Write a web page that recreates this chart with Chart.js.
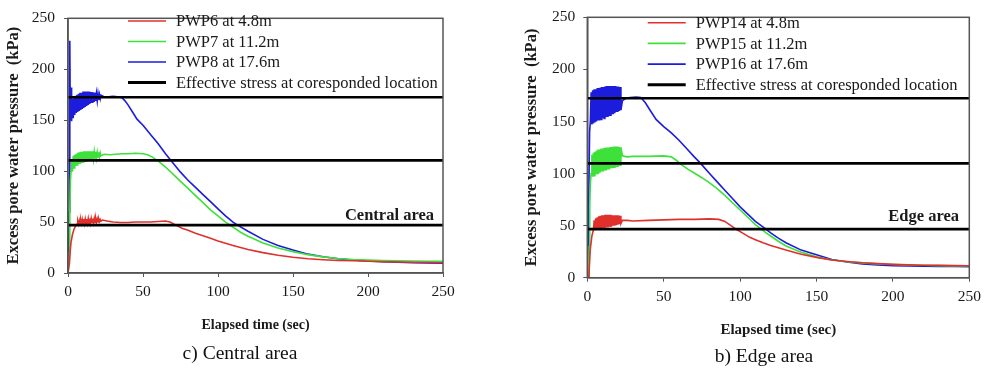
<!DOCTYPE html>
<html>
<head>
<meta charset="utf-8">
<title>Excess pore water pressure</title>
<script src="https://cdn.jsdelivr.net/npm/chart.js@4"></script>
<style>
  body { margin: 0; background: #fff; width: 989px; height: 369px; overflow: hidden; position: relative; font-family: "Liberation Serif", serif; }
  .box { position: absolute; top: 0; height: 369px; }
  #leftBox { left: 0; width: 480px; }
  #rightBox { left: 500px; width: 489px; }
  .caption { position: absolute; font-size: 19.5px; color: #111; white-space: nowrap; transform: translate(-50%, -50%); }
</style>
</head>
<body>
<div class="box" id="leftBox"><canvas id="left" width="480" height="369"></canvas></div>
<div class="box" id="rightBox"><canvas id="right" width="489" height="369"></canvas></div>
<div class="caption" style="left:240px;top:353px">c) Central area</div>
<div class="caption" style="left:764px;top:356px">b) Edge area</div>
<script>
// ---- data (time in sec, excess pore water pressure in kPa) ----
const xTicks = [0, 50, 100, 150, 200, 250];
const yTicks = [0, 50, 100, 150, 200, 250];

const leftLabels = ['PWP6 at 4.8m', 'PWP7 at 11.2m', 'PWP8 at 17.6m', 'Effective stress at coresponded location'];
const rightLabels = ['PWP14 at 4.8m', 'PWP15 at 11.2m', 'PWP16 at 17.6m', 'Effective stress at coresponded location'];

const leftStress = [172.5, 110.5, 47];
const rightStress = [172.3, 109.8, 46.6];

// central area
const pwp6 = [[0,0],[0.6,0],[1,10],[1.5,22],[2,30],[3,38],[4,43],[5,46],[6,48],
  [6.5,51],[7,48],[7.5,51.5],[8,48],[8.5,52],[9,48.5],[9.5,52.5],[10,48.5],[10.5,53],[11,48.5],[11.5,53],[12,49],
  [12.5,53],[13,49],[13.5,53.5],[14,49],[14.5,53.5],[15,49],[15.5,53.5],[16,49.5],[16.5,53.5],[17,49.5],[17.5,53.5],[18,49.5],
  [18.5,53.5],[19,50],[19.5,53],[20,50],[20.5,53],[21,50.5],[21.5,52.5],[22,51],
  [23,52],[26,51],[30,50],[35,49.5],[40,49.5],[45,50],[50,50],[55,50],[60,50.5],[65,51],[68,50],[72,47],[76,44],
  [80,42],[85,39],[90,36.5],[95,34],[100,31.5],[110,27],[120,23],[130,20],[140,17.5],[150,15.5],[160,14],[170,13],
  [180,12.3],[190,12],[200,11.5],[210,11],[220,10.8],[230,10.5],[240,10.3],[250,10]];

const pwp7 = [[0,0],[0.4,0],[0.8,20],[1.2,60],[1.6,90],[2,100],
  [2.5,112],[3,100],[3.5,115],[4,103],[4.5,116],[5,105],[5.5,117],[6,106],[6.5,118],[7,107],[7.5,118.5],[8,108],
  [8.5,119],[9,108],[9.5,119],[10,109],[10.5,119.5],[11,109],[11.5,119.5],[12,110],[12.5,119.5],[13,110],[13.5,119.5],
  [14,111],[14.5,119.5],[15,111],[15.5,119.5],[16,112],[16.5,119.5],[17,112],[17.5,119],[18,113],[18.5,119],[19,113],
  [19.5,118.5],[20,114],[20.5,118.5],[21,114],[21.5,118],[22,115],
  [24,116.5],[28,116],[32,116.5],[36,117],[40,117],[45,117.5],[50,117],[53,116],[56,114],[60,110],[65,104],[70,97],
  [75,90],[80,83],[85,76],[90,69],[95,62],[100,56],[105,50],[108,47],[110,45],[115,40],[120,36],[130,29.5],[140,24.5],
  [150,21],[160,18],[170,15.8],[180,14.2],[190,13.2],[200,12.6],[210,12.2],[220,12],[230,11.8],[240,11.6],[250,11.5]];

const pwp8 = [[0,0],[0.4,0],[0.8,60],[1.1,150],[1.3,228],[1.5,160],[1.8,150],[2,182],[2.3,155],
  [2.5,149],[3,171],[3.5,152],[4,173],[4.5,155],[5,174],[5.5,157],[6,175],[6.5,158],[7,176],[7.5,159],[8,177],
  [8.5,160],[9,177],[9.5,161],[10,178],[10.5,162],[11,178],[11.5,163],[12,178],[12.5,164],[13,178],[13.5,165],
  [14,178],[14.5,166],[15,177.5],[15.5,167],[16,177.5],[16.5,167],[17,177],[17.5,168],[18,177],[18.5,169],[19,176],
  [19.5,169],[20,176],[20.5,170],[21,175],[21.5,171],[22,174.5],
  [24,173],[27,173],[30,173.5],[33,173],[36,172],[38,169],[40,165],[43,158],[46,151],[50,145],[55,136],[60,127],
  [65,117],[70,108],[75,99],[80,91],[85,84],[90,77],[95,70],[100,63],[105,56],[110,50],[113,47],[120,41],[130,33],
  [140,27],[150,22.5],[160,18.5],[170,16],[180,14],[190,12.7],[200,11.8],[210,11],[220,10.5],[230,10],[240,9.8],[250,9.5]];

// edge area
const pwp14 = [[0,0],[1,0],[1.5,15],[2,28],[3,40],[4,46],
  [4.5,55],[5,46],[5.5,57],[6,47],[6.5,58],[7,47],[7.5,59],[8,47.5],[8.5,59.5],[9,48],[9.5,60],[10,48],[10.5,60],
  [11,48.5],[11.5,60.5],[12,48.5],[12.5,60.5],[13,49],[13.5,60.5],[14,49],[14.5,60.5],[15,49.5],[15.5,60.5],[16,49.5],
  [16.5,60],[17,50],[17.5,60],[18,50],[18.5,60],[19,50.5],[19.5,60],[20,51],[20.5,60],[21,51.5],[21.5,59.5],[22,52],
  [23,55],[26,55],[30,54.5],[40,55],[50,55.5],[60,56],[70,56],[80,56.5],[86,56],[90,54],[94,50],[98,46],[102,42.5],
  [106,39],[110,36.5],[115,33.5],[120,31],[130,26.5],[140,22.5],[150,19.5],[160,17],[170,15.5],[180,14.3],[190,13.5],
  [200,12.8],[210,12.3],[220,12],[230,11.8],[240,11.6],[250,11.5]];

const pwp15 = [[0,0],[0.8,0],[1.2,30],[1.6,70],[2,90],[2.5,100],
  [3,118],[3.5,97],[4,120],[4.5,98],[5,121],[5.5,99],[6,122],[6.5,100],[7,123],[7.5,100],[8,123],[8.5,101],[9,124],
  [9.5,102],[10,124],[10.5,102],[11,124.5],[11.5,103],[12,125],[12.5,103],[13,125],[13.5,104],[14,125],[14.5,104],
  [15,125.5],[15.5,105],[16,125.5],[16.5,105],[17,126],[17.5,106],[18,126],[18.5,106],[19,126],[19.5,107],[20,126],
  [20.5,107],[21,125.5],[21.5,108],[22,125],
  [23,117],[26,116],[30,116.5],[40,116.5],[50,117],[55,116],[58,113],[62,108],[66,104],[70,100.5],[75,96],[80,91],
  [85,85.5],[90,79],[95,72],[100,65],[105,58],[110,51],[113,47.5],[117,43],[120,40],[125,35],[130,30.5],[140,24.5],
  [150,20],[160,17],[170,15.3],[180,14.2],[190,13.3],[200,12.6],[210,12.2],[220,11.9],[230,11.6],[240,11.4],[250,11.3]];

const pwp16 = [[0,0],[0.5,0],[1,80],[1.5,140],[2,150],
  [2.5,178],[3,147],[3.5,180],[4,148],[4.5,181],[5,149],[5.5,181],[6,150],[6.5,182],[7,151],[7.5,182],[8,151],
  [8.5,182.5],[9,152],[9.5,183],[10,153],[10.5,183],[11,153],[11.5,183.5],[12,154],[12.5,184],[13,155],[13.5,184],
  [14,155],[14.5,184],[15,156],[15.5,184],[16,157],[16.5,184],[17,157],[17.5,184],[18,158],[18.5,184],[19,159],
  [19.5,183.5],[20,159],[20.5,183.5],[21,160],[21.5,183],[22,161],
  [23,170],[25,172],[28,173],[32,173.5],[35,173],[38,168],[41,161],[45,152],[50,145],[55,139],[60,132],[65,124],
  [70,116],[74,110],[80,100],[85,92],[90,84],[95,76],[100,68],[105,61],[110,54],[116,47.5],[120,43],[125,38],
  [130,33.5],[140,26.5],[150,22],[160,17.5],[170,15],[180,13.3],[190,12.3],[200,11.6],[210,11.2],[220,11],[230,10.8],
  [240,10.7],[250,10.6]];

const RED = '#e0302c';
const GREEN = '#3ee03a';
const BLUE = '#1c1cdc';
const FRAME = '#555555';
const SERIF = '"Liberation Serif", "Times New Roman", serif';

const toXY = arr => arr.map(p => ({ x: p[0], y: p[1] }));

// legend inside plot, the area tag and the box frame
const boxLegend = {
  id: 'boxLegend',
  afterDatasetsDraw(chart, args, opts) {
    const ctx = chart.ctx;
    const a = chart.chartArea;
    ctx.save();
    ctx.strokeStyle = FRAME;
    ctx.lineWidth = 1.5;
    ctx.strokeRect(a.left, a.top, a.right - a.left, a.bottom - a.top);

    ctx.font = '16.5px ' + SERIF;
    ctx.textBaseline = 'middle';
    ctx.textAlign = 'left';
    ctx.fillStyle = '#1a1a1a';
    opts.items.forEach((it, i) => {
      const y = opts.y0 + i * opts.gap;
      ctx.strokeStyle = it.color;
      ctx.lineWidth = it.width;
      ctx.beginPath();
      ctx.moveTo(opts.x0, y);
      ctx.lineTo(opts.x0 + 38, y);
      ctx.stroke();
      ctx.fillText(it.text, opts.x0 + 48, y + 1);
    });

    ctx.font = 'bold 16.5px ' + SERIF;
    ctx.textAlign = 'right';
    ctx.fillText(opts.area, opts.areaX, opts.areaY);
    ctx.restore();
  }
};

function makeChart(id, cfg) {
  const colors = [RED, GREEN, BLUE];
  const datasets = [];
  cfg.stress.forEach(v => {
    datasets.push({
      data: [{ x: 0, y: v }, { x: 250, y: v }],
      borderColor: '#000', borderWidth: 2.6, pointRadius: 0, order: 0
    });
  });
  cfg.series.forEach((s, i) => {
    datasets.push({
      label: cfg.labels[i],
      data: toXY(s),
      borderColor: colors[i], borderWidth: 1.6, pointRadius: 0, order: 1
    });
  });

  const items = cfg.labels.map((t, i) => ({
    text: t,
    color: i < 3 ? colors[i] : '#000',
    width: i < 3 ? 1.6 : 3
  }));

  return new Chart(document.getElementById(id), {
    type: 'line',
    data: { datasets },
    options: {
      responsive: false,
      animation: false,
      layout: { padding: { left: 0, top: cfg.top, right: cfg.right, bottom: 0 } },
      plugins: {
        legend: { display: false },
        tooltip: { enabled: false },
        boxLegend: { items, x0: cfg.legX, y0: cfg.legY, gap: cfg.legGap, area: cfg.area, areaX: cfg.areaX, areaY: cfg.areaY }
      },
      scales: {
        x: {
          type: 'linear', min: 0, max: 250,
          afterBuildTicks: s => { s.ticks = xTicks.map(v => ({ value: v })); },
          afterFit: s => { s.height = cfg.xAxisH; },
          grid: { drawOnChartArea: false, drawTicks: true, tickLength: 4, color: FRAME },
          border: { color: FRAME, width: 1.5 },
          ticks: { padding: 6, color: '#1a1a1a', font: { family: SERIF, size: 15.5 }, maxRotation: 0 },
          title: { display: true, text: 'Elapsed time (sec)', color: '#1a1a1a',
                   font: { family: SERIF, size: cfg.xTitleSize, weight: 'bold' }, padding: { top: 0, bottom: cfg.xTitlePad } }
        },
        y: {
          type: 'linear', min: 0, max: 250,
          afterBuildTicks: s => { s.ticks = yTicks.map(v => ({ value: v })); },
          afterFit: s => { s.width = cfg.yAxisW; },
          grid: { drawOnChartArea: false, drawTicks: true, tickLength: 4, color: FRAME },
          border: { color: FRAME, width: 1.5 },
          ticks: { padding: cfg.yTickPad, color: '#1a1a1a', font: { family: SERIF, size: 15.5 } },
          title: { display: true, text: 'Excess pore water pressure  (kPa)', color: '#1a1a1a',
                   font: { family: SERIF, size: 16.5, weight: 'bold' }, padding: { top: cfg.yTitlePad, bottom: 0 } }
        }
      }
    },
    plugins: [boxLegend]
  });
}

makeChart('left', {
  series: [pwp6, pwp7, pwp8], labels: leftLabels, stress: leftStress,
  top: 10, right: 37, yAxisW: 68, xAxisH: 96, yTickPad: 9, yTitlePad: 4, xTitlePad: 35.6, xTitleSize: 14,
  legX: 128, legY: 21, legGap: 20.5, area: 'Central area', areaX: 434, areaY: 216
});

makeChart('right', {
  series: [pwp14, pwp15, pwp16], labels: rightLabels, stress: rightStress,
  top: 10, right: 19.7, yAxisW: 87.3, xAxisH: 91.3, yTickPad: 8, yTitlePad: 22, xTitlePad: 30.2, xTitleSize: 15,
  legX: 147.7, legY: 22.7, legGap: 20.7, area: 'Edge area', areaX: 459, areaY: 217
});
</script>
</body>
</html>
